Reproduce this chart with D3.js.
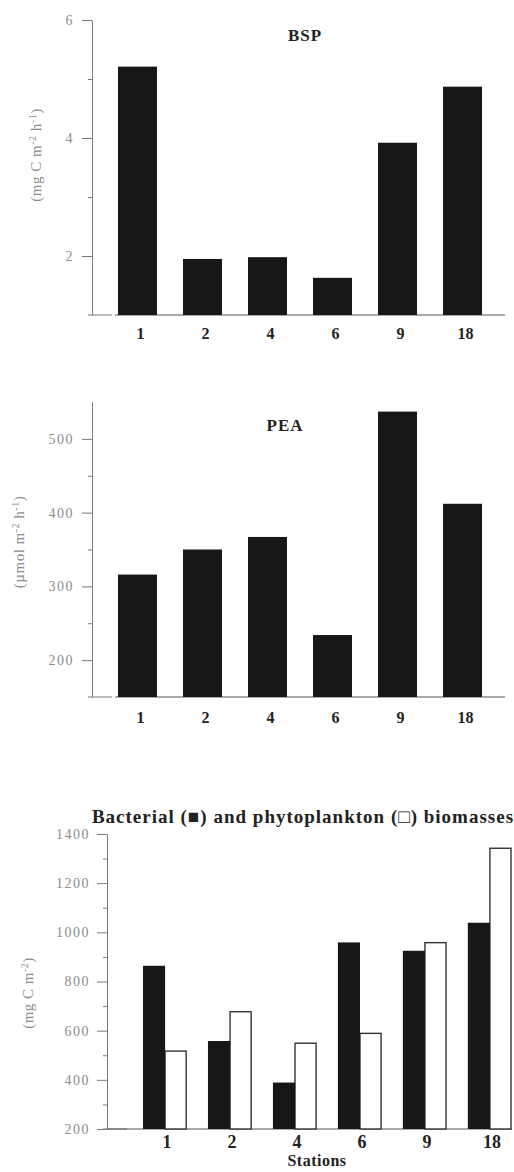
<!DOCTYPE html>
<html>
<head>
<meta charset="utf-8">
<script src="https://cdn.jsdelivr.net/npm/d3@7"></script>
<style>
	body { margin: 0; background: #fff; }
	svg { display: block; font-family: "Liberation Serif", "DejaVu Serif", serif; }
</style>
</head>
<body>
<div id="chart"></div>
<script>
"use strict";

// data
const stations = ["1", "2", "4", "6", "9", "18"];
const bspValues = [5.21, 1.95, 1.98, 1.63, 3.92, 4.87];
const peaValues = [316, 350, 367, 234, 537, 412];
const bacterialValues = [864, 558, 389, 959, 925, 1039];
const phytoValues = [517, 677, 549, 589, 958, 1342];

const bspTicks = [2, 4, 6];
const bspMinor = [3, 5];
const peaTicks = [200, 300, 400, 500];
const peaMinor = [250, 350, 450];
const bioTicks = [200, 400, 600, 800, 1000, 1200, 1400];
const bioMinor = [300, 500, 700, 900, 1100, 1300];

const W = 514, H = 1172;
const axisColor = "#7a7a7a";
const labelColor = "#8c8c8c";
const barColor = "#171717";

const svg = d3.select("#chart")
	.append("svg")
	.attr("width", W)
	.attr("height", H);

// y axis with major + minor ticks, styled like the scanned figure
const yAxis = (g, y, x0, ticks, minor, labelRight) => {
	g.append("g")
		.attr("transform", `translate(${x0},0)`)
		.call(d3.axisLeft(y).tickValues(ticks).tickSize(10).tickSizeOuter(0).tickFormat(d3.format("d")))
		.call(a => a.select(".domain").attr("stroke", axisColor))
		.call(a => a.selectAll(".tick line").attr("stroke", axisColor))
		.call(a => a.selectAll(".tick text")
			.attr("x", labelRight - x0)
			.attr("fill", labelColor)
			.attr("font-size", 14)
			.attr("letter-spacing", 1.5)
			.attr("font-family", "Liberation Serif"));

	g.append("g")
		.attr("transform", `translate(${x0},0)`)
		.call(d3.axisLeft(y).tickValues(minor).tickSize(4).tickFormat(""))
		.call(a => a.select(".domain").remove())
		.call(a => a.selectAll(".tick line").attr("stroke", axisColor));

	// little horizontal stub at the foot of the axis
	g.append("line")
		.attr("x1", x0 - 4).attr("x2", x0 + 20)
		.attr("y1", y.range()[0]).attr("y2", y.range()[0])
		.attr("stroke", axisColor);
}

const unitLabel = (g, x, y, parts) => {
	const t = g.append("text")
		.attr("transform", `translate(${x},${y}) rotate(-90)`)
		.attr("text-anchor", "middle")
		.attr("fill", labelColor)
		.attr("font-size", 15)
		.attr("letter-spacing", 0.5);
	parts.forEach(p => {
		t.append("tspan")
			.attr("baseline-shift", p.sup ? "super" : null)
			.attr("font-size", p.sup ? 10 : null)
			.text(p.t);
	});
}

const simpleChart = (cfg) => {
	const g = svg.append("g");

	const x = d3.scaleBand()
		.domain(stations)
		.range([105, 495])
		.paddingInner(0.4)
		.paddingOuter(0.2);

	const y = d3.scaleLinear()
		.domain(cfg.domain)
		.range(cfg.range);

	yAxis(g, y, 92, cfg.ticks, cfg.minor, 74);

	// x baseline
	g.append("line")
		.attr("x1", 115).attr("x2", 505)
		.attr("y1", cfg.range[0]).attr("y2", cfg.range[0])
		.attr("stroke", "#555");

	g.selectAll("rect.bar")
		.data(cfg.values)
		.enter()
		.append("rect")
		.attr("class", "bar")
		.attr("x", (d, i) => x(stations[i]))
		.attr("y", d => y(d))
		.attr("width", x.bandwidth())
		.attr("height", d => y(cfg.domain[0]) - y(d))
		.attr("fill", barColor);

	g.selectAll("text.xlab")
		.data(stations)
		.enter()
		.append("text")
		.attr("class", "xlab")
		.attr("x", d => x(d) + x.bandwidth() / 2 + 3)
		.attr("y", cfg.labelY)
		.attr("text-anchor", "middle")
		.attr("font-weight", "bold")
		.attr("font-size", 16)
		.attr("fill", "#222")
		.text(d => d);

	g.append("text")
		.attr("x", cfg.titleX)
		.attr("y", cfg.titleY)
		.attr("text-anchor", "middle")
		.attr("font-weight", cfg.titleWeight)
		.attr("font-size", 17)
		.attr("letter-spacing", 1)
		.attr("fill", "#222")
		.text(cfg.title);

	unitLabel(g, cfg.unitX, cfg.unitY, cfg.unit);
}

simpleChart({
	values: bspValues, domain: [1, 6], range: [315, 20],
	ticks: bspTicks, minor: bspMinor,
	title: "BSP", titleX: 305, titleY: 41, titleWeight: "bold",
	labelY: 339,
	unitX: 41, unitY: 155,
	unit: [{t: "(mg C m"}, {t: "-2", sup: true}, {t: " h"}, {t: "-1", sup: true}, {t: ")"}]
});

simpleChart({
	values: peaValues, domain: [150, 550], range: [697, 402],
	ticks: peaTicks, minor: peaMinor,
	title: "PEA", titleX: 285, titleY: 431, titleWeight: 600,
	labelY: 723,
	unitX: 24, unitY: 542,
	unit: [{t: "(µmol m"}, {t: "-2", sup: true}, {t: " h"}, {t: "-1", sup: true}, {t: ")"}]
});

// bacterial vs phytoplankton biomasses
(() => {
	const g = svg.append("g");

	const x = d3.scaleBand()
		.domain(stations)
		.range([143, 512])
		.paddingInner(0.32)
		.paddingOuter(0);

	const xs = d3.scaleBand()
		.domain(["bact", "phyto"])
		.range([0, x.bandwidth()]);

	const y = d3.scaleLinear()
		.domain([200, 1400])
		.range([1129, 834]);

	yAxis(g, y, 107, bioTicks, bioMinor, 90);

	g.append("line")
		.attr("x1", 107).attr("x2", 512)
		.attr("y1", 1129).attr("y2", 1129)
		.attr("stroke", "#555");

	const rows = stations.map((s, i) => ({s: s, bact: bacterialValues[i], phyto: phytoValues[i]}));

	const grp = g.selectAll("g.station")
		.data(rows)
		.enter()
		.append("g")
		.attr("class", "station")
		.attr("transform", d => `translate(${x(d.s)},0)`);

	grp.append("rect")
		.attr("x", xs("phyto"))
		.attr("y", d => y(d.phyto))
		.attr("width", xs.bandwidth() - 1)
		.attr("height", d => y(200) - y(d.phyto))
		.attr("fill", "#fff")
		.attr("stroke", "#333")
		.attr("stroke-width", 1.4);

	grp.append("rect")
		.attr("x", xs("bact"))
		.attr("y", d => y(d.bact))
		.attr("width", xs.bandwidth())
		.attr("height", d => y(200) - y(d.bact))
		.attr("fill", barColor);

	g.selectAll("text.xlab")
		.data(stations)
		.enter()
		.append("text")
		.attr("class", "xlab")
		.attr("x", d => x(d) + x.bandwidth() / 2 + 2)
		.attr("y", 1148)
		.attr("text-anchor", "middle")
		.attr("font-weight", "bold")
		.attr("font-size", 18)
		.attr("fill", "#222")
		.text(d => d);

	g.append("text")
		.attr("x", 317)
		.attr("y", 1166)
		.attr("text-anchor", "middle")
		.attr("font-weight", "bold")
		.attr("font-size", 16)
		.attr("letter-spacing", 0.5)
		.attr("fill", "#222")
		.text("Stations");

	g.append("text")
		.attr("x", 303)
		.attr("y", 823)
		.attr("text-anchor", "middle")
		.attr("font-weight", "bold")
		.attr("font-size", 19)
		.attr("letter-spacing", 1)
		.attr("fill", "#222")
		.text("Bacterial (■) and phytoplankton (□) biomasses");

	unitLabel(g, 33, 993, [{t: "(mg C m"}, {t: "-2", sup: true}, {t: ")"}]);
})();
</script>
</body>
</html>
